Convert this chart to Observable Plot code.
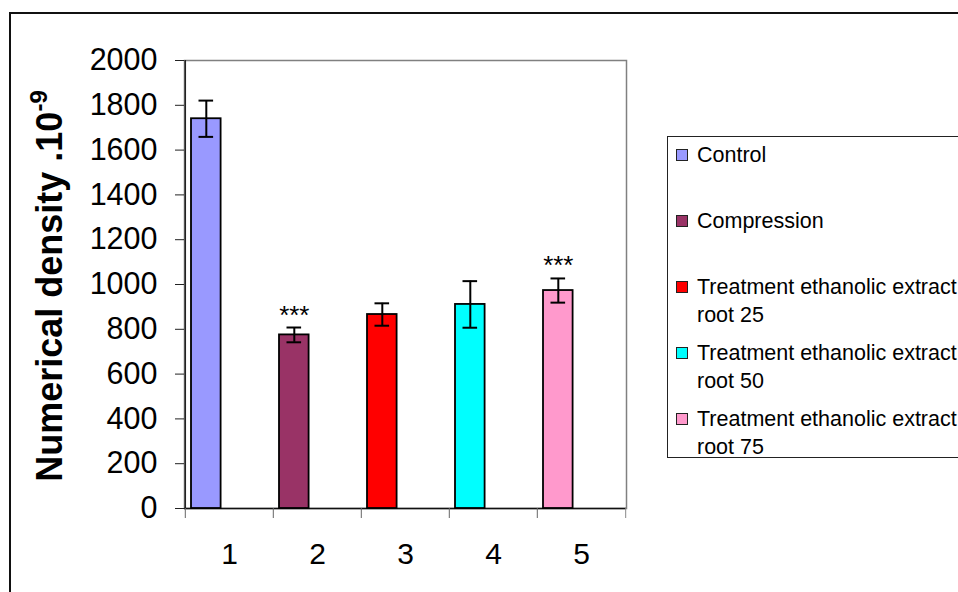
<!DOCTYPE html>
<html><head><meta charset="utf-8">
<script src="https://cdn.jsdelivr.net/npm/d3@7"></script>
<script src="https://cdn.jsdelivr.net/npm/@observablehq/plot@0.6"></script>
<style>
body{margin:0;background:#fff;font-family:"Liberation Sans",Arial,sans-serif;}
#wrap{position:relative;width:958px;height:592px;overflow:hidden;background:#fff;}
#chart{position:absolute;left:0;top:0;}
#border{position:absolute;left:9px;top:12px;width:1000px;height:700px;border:2px solid #111;pointer-events:none;}
#ylabel{position:absolute;left:-160px;top:264px;width:420px;height:44px;line-height:44px;text-align:center;transform:rotate(-90deg);font-weight:bold;font-size:36px;color:#000;white-space:nowrap;}
#ylabel sup{font-size:24px;vertical-align:baseline;position:relative;top:-15px;}
#legend{position:absolute;left:667px;top:136px;width:330px;height:320px;border:1px solid #222;background:#fff;}
.sw{position:absolute;left:8px;width:10px;height:10px;border:1px solid #222;}
.lab{position:absolute;left:29px;width:280px;font-size:21.5px;line-height:28px;color:#000;}
</style></head><body>
<div id="wrap"><div id="chart"></div><div id="border"></div><div id="ylabel">Numerical density .10<sup>-9</sup></div><div id="legend"></div></div>
<script>
const categories = ["1", "2", "3", "4", "5"];
const seriesNames = ["Control", "Compression", "Treatment ethanolic extract root 25", "Treatment ethanolic extract root 50", "Treatment ethanolic extract root 75"];
const means = [1740, 775, 866, 911, 973];
const errors = [81, 33, 50, 104, 54];
const significance = ["", "***", "", "", "***"];
const colors = ["#9999FF", "#993366", "#FF0000", "#00FFFF", "#FF99CC"];
const yTicks = [0, 200, 400, 600, 800, 1000, 1200, 1400, 1600, 1800, 2000];

const data = categories.map((c, i) => ({cat: c, name: seriesNames[i], mean: means[i], err: errors[i], sig: significance[i]}));

const W = 958, H = 592, mL = 184, mR = 332, mT = 60, mB = 84;
const bw = (W - mL - mR) / categories.length;
const insL = 6, barW = 30;
const off = insL + barW / 2 - bw / 2;

const chart = Plot.plot({
  width: W, height: H,
  marginLeft: mL, marginRight: mR, marginTop: mT, marginBottom: mB,
  style: {fontFamily: "Liberation Sans, Arial, sans-serif", fontSize: "30px", background: "transparent", color: "#000"},
  x: {type: "band", domain: categories, padding: 0, axis: null, label: null},
  y: {domain: [0, 2000], axis: null, label: null},
  color: {domain: seriesNames, range: colors},
  marks: [
    Plot.frame({stroke: "#808080", strokeWidth: 1.5}),
    Plot.ruleX([categories[0]], {dx: -bw / 2, stroke: "#222", strokeWidth: 1.5}),
    Plot.ruleY([0], {stroke: "#111", strokeWidth: 1.5}),
    Plot.axisY({ticks: yTicks, tickSize: 9, tickPadding: 18, fontSize: 30.5, stroke: "#222", tickFormat: d => String(d), label: null}),
    Plot.axisX({ticks: categories, tickSize: 10, tickPadding: 0, dx: -bw / 2, tickFormat: () => "", stroke: "#666", label: null}),
    Plot.axisX({ticks: [categories[categories.length - 1]], tickSize: 10, dx: bw / 2, tickFormat: () => "", stroke: "#888", label: null}),
    Plot.axisX({ticks: categories, tickSize: 0, tickPadding: 34, fontSize: 30, label: null}),
    Plot.barY(data, {x: "cat", y: "mean", fill: "name", stroke: "#000", strokeWidth: 1.8, insetLeft: insL, insetRight: bw - insL - barW}),
    Plot.ruleX(data, {x: "cat", y1: d => d.mean - d.err, y2: d => d.mean + d.err, dx: off, stroke: "#000", strokeWidth: 2}),
    Plot.tickY(data, {x: "cat", y: d => d.mean - d.err, stroke: "#000", strokeWidth: 2, insetLeft: insL + barW / 2 - 7.5, insetRight: bw - insL - barW / 2 - 7.5}),
    Plot.tickY(data, {x: "cat", y: d => d.mean + d.err, stroke: "#000", strokeWidth: 2, insetLeft: insL + barW / 2 - 7.5, insetRight: bw - insL - barW / 2 - 7.5}),
    Plot.text(data.filter(d => d.sig), {x: "cat", y: d => d.mean + d.err, text: "sig", dx: off, dy: -4, lineAnchor: "bottom", fontSize: 26, fill: "#000"})
  ]
});
document.getElementById("chart").appendChild(chart);

const legend = document.getElementById("legend");
seriesNames.forEach((name, i) => {
  const top = 18 + 66 * i - 14;
  const sw = document.createElement("div");
  sw.className = "sw";
  sw.style.top = (top + 14 - 6) + "px";
  sw.style.background = colors[i];
  legend.appendChild(sw);
  const lab = document.createElement("div");
  lab.className = "lab";
  lab.style.top = top + "px";
  lab.textContent = name;
  legend.appendChild(lab);
});
</script>
</body></html>
